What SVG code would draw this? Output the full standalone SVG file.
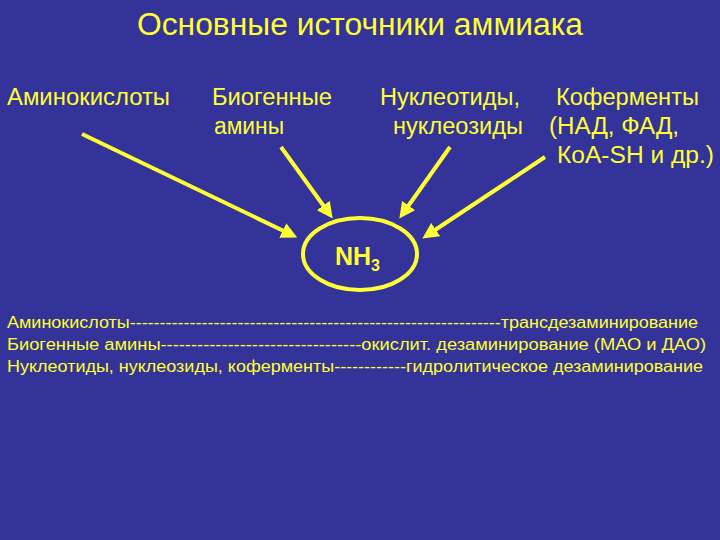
<svg xmlns="http://www.w3.org/2000/svg" width="720" height="540" viewBox="0 0 720 540">
<style>
text{font-family:"Liberation Sans",Arial,sans-serif;fill:#ffff33}
.t{font-size:31px}
.l{font-size:23px}
.b{font-size:16px}
.a{stroke:#ffff33;stroke-width:4;fill:none;marker-end:url(#m)}
</style>
<defs><marker id="m" markerWidth="4" markerHeight="4" refX="2" refY="2" orient="auto"><path d="M0,0L4,2L0,4z" fill="#ffff33"/></marker></defs>
<rect width="720" height="540" fill="#333399"/>
<text class="t" x="137" y="35" textLength="446" lengthAdjust="spacingAndGlyphs">Основные источники аммиака</text>
<g id="n1"><text class="l" x="7" y="105" textLength="163" lengthAdjust="spacingAndGlyphs">Аминокислоты</text></g>
<g id="n2"><text class="l" x="212" y="105" textLength="120" lengthAdjust="spacingAndGlyphs">Биогенные</text><text class="l" x="214" y="134" textLength="70" lengthAdjust="spacingAndGlyphs">амины</text></g>
<g id="n3"><text class="l" x="380" y="105" textLength="140" lengthAdjust="spacingAndGlyphs">Нуклеотиды,</text><text class="l" x="393" y="134" textLength="130" lengthAdjust="spacingAndGlyphs">нуклеозиды</text></g>
<g id="n4"><text class="l" x="556" y="105" textLength="143" lengthAdjust="spacingAndGlyphs">Коферменты</text><text class="l" x="549" y="134" textLength="130" lengthAdjust="spacingAndGlyphs">(НАД, ФАД,</text><text class="l" x="557" y="163" textLength="157" lengthAdjust="spacingAndGlyphs">КоА-SH и др.)</text></g>
<g id="nh3"><ellipse cx="360" cy="254" rx="57" ry="36" fill="none" stroke="#ffff33" stroke-width="4"/><text x="335" y="265" font-size="25" font-weight="bold">NH<tspan font-size="16" dy="6">3</tspan></text></g>
<g id="connectors">
<line class="a" x1="82" y1="134" x2="290" y2="234"/>
<line class="a" x1="281" y1="147" x2="328" y2="212"/>
<line class="a" x1="450" y1="147" x2="404" y2="212"/>
<line class="a" x1="545" y1="157" x2="429" y2="234"/>
</g>
<g id="notes">
<text class="b" x="7" y="328" textLength="691" lengthAdjust="spacingAndGlyphs">Аминокислоты--------------------------------------------------------------трансдезаминирование</text>
<text class="b" x="7" y="350" textLength="699" lengthAdjust="spacingAndGlyphs">Биогенные амины---------------------------------окислит. дезаминирование (МАО и ДАО)</text>
<text class="b" x="7" y="372" textLength="696" lengthAdjust="spacingAndGlyphs">Нуклеотиды, нуклеозиды, коферменты------------гидролитическое дезаминирование</text>
</g>
</svg>
